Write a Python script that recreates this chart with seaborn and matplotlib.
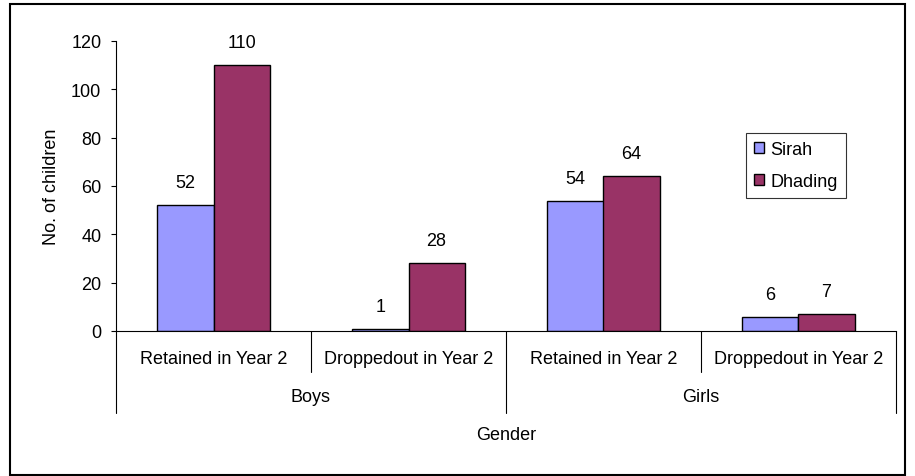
import matplotlib
matplotlib.use("Agg")
import matplotlib.pyplot as plt
import matplotlib.transforms as mtransforms
from matplotlib.patches import Rectangle
import pandas as pd
import seaborn as sns

# Data
genders = ["Boys", "Boys", "Girls", "Girls"]
statuses = ["Retained in Year 2", "Droppedout in Year 2",
            "Retained in Year 2", "Droppedout in Year 2"]
sirah = [52, 1, 54, 6]
dhading = [110, 28, 64, 7]
districts = ["Sirah", "Dhading"]
palette = {"Sirah": "#9999FF", "Dhading": "#993366"}

groups = [f"{g}|{s}" for g, s in zip(genders, statuses)]
df = pd.DataFrame({
    "group": groups * 2,
    "district": ["Sirah"] * 4 + ["Dhading"] * 4,
    "children": sirah + dhading,
})

sns.set_theme(style="white")
plt.rcParams["font.family"] = ["Liberation Sans", "DejaVu Sans"]
plt.rcParams.update({"text.color": "black", "axes.labelcolor": "black",
                     "xtick.color": "black", "ytick.color": "black"})
FS = 13

W, H = 915, 477
fig = plt.figure(figsize=(W / 100, H / 100), dpi=100)
ax = fig.add_axes([116 / W, 1 - 332 / H, (896 - 116) / W, (332 - 42) / H])

sns.barplot(data=df, x="group", y="children", hue="district",
            hue_order=districts, order=groups, palette=palette,
            width=0.575, gap=0, edgecolor="black", linewidth=1.0,
            saturation=1, ax=ax, legend=True)

for cont in ax.containers:
    ax.bar_label(cont, fmt="%d", padding=10, fontsize=FS, color="black")

ax.set_ylim(0, 120)
ax.set_xlim(-0.5, 3.5)
ax.set_yticks(range(0, 121, 20))
ax.tick_params(axis="y", which="both", left=True, length=3.6, width=0.8,
               color="black", labelcolor="black", labelsize=FS, pad=7,
               direction="out")
ax.tick_params(axis="x", bottom=False, labelbottom=False)
ax.set_xlabel("")
ax.set_ylabel("No. of children", fontsize=FS, labelpad=8, color="black")

for side in ["top", "right"]:
    ax.spines[side].set_visible(False)
ax.spines["left"].set_color("black")
ax.spines["left"].set_linewidth(0.8)
ax.spines["bottom"].set_color("black")
ax.spines["bottom"].set_linewidth(0.8)

# Two-level category axis
pt = 72 / 100.0  # points per pixel
trans = ax.get_xaxis_transform()
offset = lambda px: mtransforms.offset_copy(trans, fig=fig, y=-px * pt, units="points")

y0 = ax.transAxes.transform((0, 0))[1]
for i, xb in enumerate([-0.5, 0.5, 1.5, 2.5, 3.5]):
    depth = 82 if i in (0, 2, 4) else 41
    x_disp = ax.transData.transform((xb, 0))[0]
    fig.add_artist(plt.Line2D([x_disp / W, x_disp / W],
                              [y0 / H, (y0 - depth) / H],
                              color="black", lw=0.8,
                              transform=fig.transFigure))

for i, s in enumerate(statuses):
    ax.text(i, 0, s, transform=offset(27), ha="center", va="center",
            fontsize=FS, color="black", clip_on=False)

for j, g in enumerate(["Boys", "Girls"]):
    ax.text(2 * j + 0.5, 0, g, transform=offset(66), ha="center",
            va="center", fontsize=FS, color="black", clip_on=False)

ax.text(1.5, 0, "Gender", transform=offset(103), ha="center",
        va="center", fontsize=FS, color="black", clip_on=False)

# Legend
handles, labels = ax.get_legend_handles_labels()
leg = ax.legend(handles, labels, loc="upper left",
                bbox_to_anchor=(746 / W, 1 - 134 / H),
                bbox_transform=fig.transFigure, frameon=True,
                fancybox=False, edgecolor="black", fontsize=FS,
                handlelength=0.55, handleheight=0.55, handletextpad=0.35,
                labelspacing=0.8, borderpad=0.45, borderaxespad=0,
                title=None)
leg.get_frame().set_linewidth(0.8)
for t in leg.get_texts():
    t.set_color("black")

# Outer border of the chart area
fig.add_artist(Rectangle((10 / W, 1 - 476 / H), (905 - 10) / W,
                         (476 - 5) / H, transform=fig.transFigure,
                         fill=False, edgecolor="black", lw=1.5))

fig.savefig("out.png", dpi=100)
